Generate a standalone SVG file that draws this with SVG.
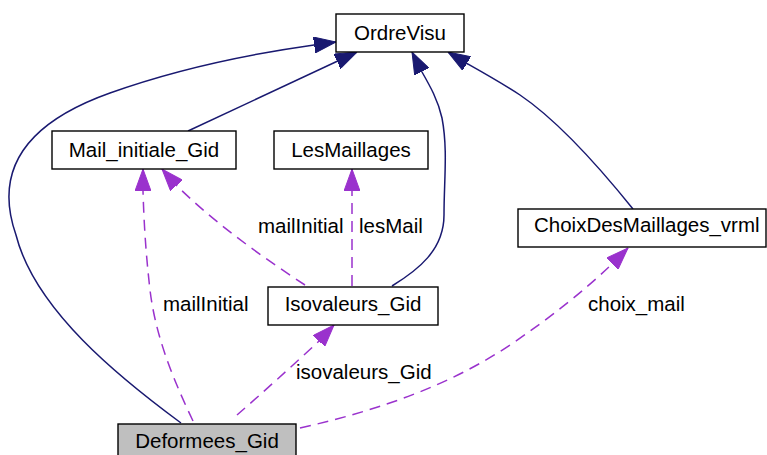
<svg xmlns="http://www.w3.org/2000/svg" width="767" height="455" viewBox="0 0 767 455">
  <style>
    .box { fill: #ffffff; stroke: #000000; stroke-width: 1.4; }
    .box.main { fill: #bfbfbf; }
    text { font-family: "Liberation Sans", Arial, Helvetica, sans-serif; font-size: 20.5px; fill: #000000; }
    .lbl { text-anchor: middle; }
    .inh { fill: none; stroke: #191970; stroke-width: 1.5; marker-end: url(#arrNavy); }
    .use { fill: none; stroke: #9a32cd; stroke-width: 1.5; stroke-dasharray: 11 7; marker-end: url(#arrPurple); }
  </style>
  <defs>
    <marker id="arrNavy" viewBox="0 0 22 16" refX="22" refY="8" markerWidth="22" markerHeight="16" markerUnits="userSpaceOnUse" orient="auto">
      <path d="M0,0 L22,8 L0,16 z" fill="#191970" stroke="#191970" stroke-width="1"/>
    </marker>
    <marker id="arrPurple" viewBox="0 0 22 16" refX="22" refY="8" markerWidth="22" markerHeight="16" markerUnits="userSpaceOnUse" orient="auto">
      <path d="M0,0 L22,8 L0,16 z" fill="#9a32cd" stroke="#9a32cd" stroke-width="1"/>
    </marker>
  </defs>

  <!-- connectors -->
  <g id="edges">
    <!-- inheritance -->
    <path class="inh" d="M181,423 C120,378 35,310 16,235 C-5,175 20,125 110,93 C180,68 250,54 314,45 L336,42"/>
    <path class="inh" d="M188,131 L357,52"/>
    <path class="inh" d="M392,286 C418,270 444,250 444,215 C444,180 448,150 442,118 C438,100 430,86 422,72 L412,52"/>
    <path class="inh" d="M633,209 C600,168 560,122 520,95 C500,82 482,72 466,63 L448,52"/>
    <!-- usage -->
    <path class="use" d="M193,421 C176,385 156,340 150,290 C146,255 144,225 143,191 L143,169"/>
    <path class="use" d="M305,285 C270,262 220,228 177,186 L162,169"/>
    <path class="use" d="M352,286 L352,169"/>
    <path class="use" d="M237,415 C260,395 290,368 318,342 L334,325"/>
    <path class="use" d="M300,428 C380,410 450,385 510,345 C550,318 585,290 612,264 L628,248"/>
    <!-- edge labels -->
    <text x="163" y="311">mailInitial</text>
    <text x="258" y="233">mailInitial</text>
    <text x="359" y="233">lesMail</text>
    <text x="296" y="379">isovaleurs_Gid</text>
    <text x="588" y="311">choix_mail</text>
  </g>

  <g id="OrdreVisu">
    <rect class="box" x="336" y="14" width="128" height="38"/>
    <text class="lbl" x="400" y="40">OrdreVisu</text>
  </g>
  <g id="Mail_initiale_Gid">
    <rect class="box" x="52" y="131" width="184" height="38"/>
    <text class="lbl" x="144" y="157">Mail_initiale_Gid</text>
  </g>
  <g id="LesMaillages">
    <rect class="box" x="274" y="131" width="154" height="38"/>
    <text class="lbl" x="351" y="157">LesMaillages</text>
  </g>
  <g id="ChoixDesMaillages_vrml">
    <rect class="box" x="518" y="209" width="248" height="38"/>
    <text x="534" y="232">ChoixDesMaillages_vrml</text>
  </g>
  <g id="Isovaleurs_Gid">
    <rect class="box" x="268" y="287" width="170" height="38"/>
    <text class="lbl" x="353" y="311">Isovaleurs_Gid</text>
  </g>
  <g id="Deformees_Gid">
    <rect class="box main" x="118" y="424" width="178" height="38"/>
    <text class="lbl" x="207" y="448">Deformees_Gid</text>
  </g>
</svg>
